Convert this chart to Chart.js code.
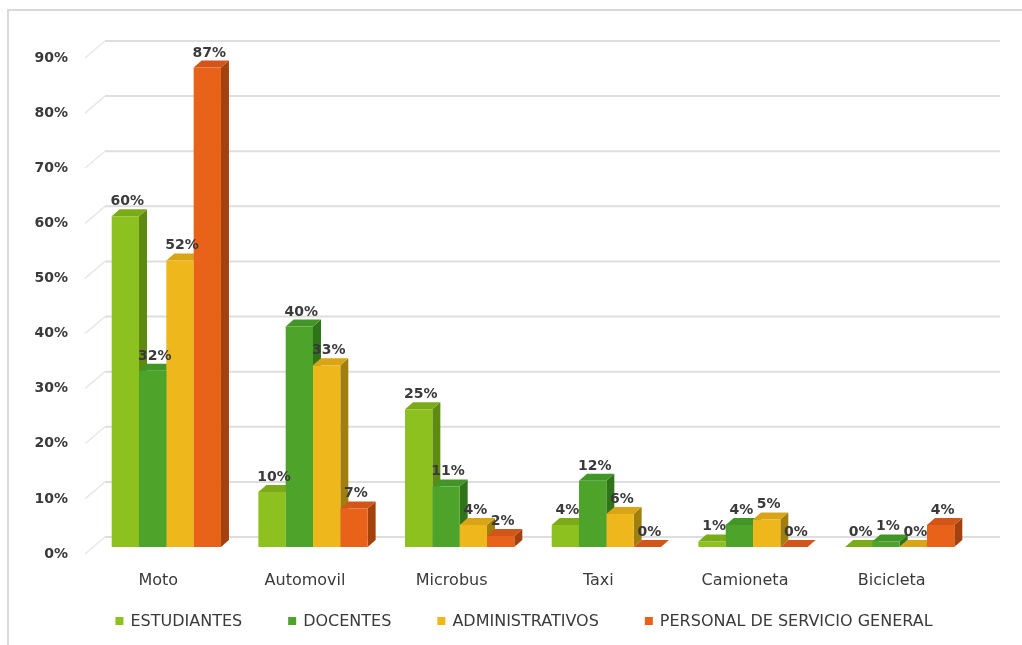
<!DOCTYPE html>
<html>
<head>
<meta charset="utf-8">
<script src="https://cdn.jsdelivr.net/npm/chart.js@4.4.0/dist/chart.umd.min.js"></script>
<style>
  html, body { margin: 0; padding: 0; background: #fff; }
  #box { width: 1022px; height: 645px; }
</style>
</head>
<body>
<div id="box"><canvas id="chart"></canvas></div>
<script>
const categories = ["Moto", "Automovil", "Microbus", "Taxi", "Camioneta", "Bicicleta"];
const seriesNames = ["ESTUDIANTES", "DOCENTES", "ADMINISTRATIVOS", "PERSONAL DE SERVICIO GENERAL"];
const estudiantes = [60, 10, 25, 4, 1, 0];
const docentes = [32, 40, 11, 12, 4, 1];
const administrativos = [52, 33, 4, 6, 5, 0];
const personal = [87, 7, 2, 0, 0, 4];
const yMax = 90;
const yStep = 10;

const frontColors = ["#8cc11f", "#4ea42b", "#eeb81c", "#e8621a"];
const sideColors = ["#5e8a12", "#2f7418", "#a07f0e", "#a4420e"];
const topColors = ["#7bab18", "#429527", "#d9a516", "#d2561a"];

// 3D projection offsets
const depth = { dx: 8, dy: -7 };
const wall = { dx: 12, dy: -10 };
const front = { dx: -8, dy: 7 };
const FONT = "'DejaVu Sans', sans-serif";
const textColor = "#3a3a3a";

function poly(ctx, pts, fill) {
  ctx.beginPath();
  ctx.moveTo(pts[0][0], pts[0][1]);
  for (let i = 1; i < pts.length; i++) ctx.lineTo(pts[i][0], pts[i][1]);
  ctx.closePath();
  ctx.fillStyle = fill;
  ctx.fill();
}

const threeD = {
  id: "threeD",
  beforeDraw(chart) {
    const ctx = chart.ctx;
    ctx.save();
    ctx.fillStyle = "#fff";
    ctx.fillRect(0, 0, chart.width, chart.height);
    ctx.strokeStyle = "#d9d9d9";
    ctx.lineWidth = 2;
    ctx.beginPath();
    ctx.moveTo(8, chart.height);
    ctx.lineTo(8, 10);
    ctx.lineTo(chart.width, 10);
    ctx.stroke();
    ctx.restore();
  },
  beforeDatasetsDraw(chart) {
    const ctx = chart.ctx;
    const y = chart.scales.y;
    const area = chart.chartArea;
    ctx.save();
    // back wall grid + diagonals
    y.ticks.forEach(t => {
      const py = y.getPixelForValue(t.value);
      ctx.strokeStyle = "#e8e8e8";
      ctx.lineWidth = 1.5;
      ctx.beginPath();
      ctx.moveTo(area.left + front.dx, py + front.dy);
      ctx.lineTo(area.left + wall.dx, py + wall.dy);
      ctx.stroke();
      ctx.strokeStyle = "#dedede";
      ctx.lineWidth = 2;
      ctx.beginPath();
      ctx.moveTo(area.left + wall.dx, py + wall.dy);
      ctx.lineTo(area.right + 27, py + wall.dy);
      ctx.stroke();
    });
    // side and top faces
    chart.data.datasets.forEach((ds, di) => {
      const meta = chart.getDatasetMeta(di);
      meta.data.forEach(bar => {
        const l = bar.x - bar.width / 2, r = bar.x + bar.width / 2;
        const top = bar.y, base = bar.base;
        poly(ctx, [[r, top], [r + depth.dx, top + depth.dy], [r + depth.dx, base + depth.dy], [r, base]], sideColors[di]);
        poly(ctx, [[l, top], [l + depth.dx, top + depth.dy], [r + depth.dx, top + depth.dy], [r, top]], topColors[di]);
      });
    });
    ctx.restore();
  },
  afterDatasetsDraw(chart) {
    const ctx = chart.ctx;
    ctx.save();
    ctx.font = "bold 14px " + FONT;
    ctx.fillStyle = textColor;
    ctx.textAlign = "center";
    ctx.textBaseline = "alphabetic";
    chart.data.datasets.forEach((ds, di) => {
      const meta = chart.getDatasetMeta(di);
      meta.data.forEach((bar, i) => {
        ctx.fillText(ds.data[i] + "%", bar.x + 2, bar.y - 11);
      });
    });
    ctx.restore();
  },
  afterDraw(chart) {
    // legend
    const ctx = chart.ctx;
    ctx.save();
    ctx.font = "16px " + FONT;
    const box = 8, gapBox = 7, gapItem = 46;
    const items = chart.data.datasets.map((ds, i) => ({
      text: ds.label, color: frontColors[i], w: box + gapBox + ctx.measureText(ds.label).width
    }));
    const total = items.reduce((s, it) => s + it.w, 0) + gapItem * (items.length - 1);
    let x = 524 - total / 2;
    const cy = 621;
    ctx.textBaseline = "middle";
    ctx.textAlign = "left";
    items.forEach(it => {
      ctx.fillStyle = it.color;
      ctx.fillRect(x, cy - box / 2, box, box);
      ctx.fillStyle = textColor;
      ctx.fillText(it.text, x + box + gapBox, cy + 1);
      x += it.w + gapItem;
    });
    ctx.restore();
  }
};

const seriesData = [estudiantes, docentes, administrativos, personal];

new Chart(document.getElementById("chart"), {
  type: "bar",
  data: {
    labels: categories,
    datasets: seriesNames.map((name, i) => ({
      label: name,
      data: seriesData[i],
      backgroundColor: frontColors[i],
      borderWidth: 0,
      categoryPercentage: 0.745,
      barPercentage: 1.0
    }))
  },
  options: {
    responsive: true,
    maintainAspectRatio: false,
    animation: false,
    layout: { padding: { left: 0, right: 49, top: 51, bottom: 53 } },
    plugins: {
      legend: { display: false },
      tooltip: { enabled: false }
    },
    scales: {
      x: {
        grid: { display: false, drawTicks: false },
        border: { display: false },
        ticks: { color: textColor, font: { family: FONT, size: 16 }, padding: 24, labelOffset: -8 },
        afterFit: s => { s.height = 45; }
      },
      y: {
        min: 0,
        max: yMax,
        grid: { display: false, drawTicks: false },
        border: { display: false },
        ticks: {
          stepSize: yStep,
          color: textColor,
          font: { family: FONT, size: 14, weight: "bold" },
          padding: 25,
          labelOffset: 7,
          callback: v => v + "%"
        },
        afterFit: s => { s.width = 93; }
      }
    }
  },
  plugins: [threeD]
});
</script>
</body>
</html>
